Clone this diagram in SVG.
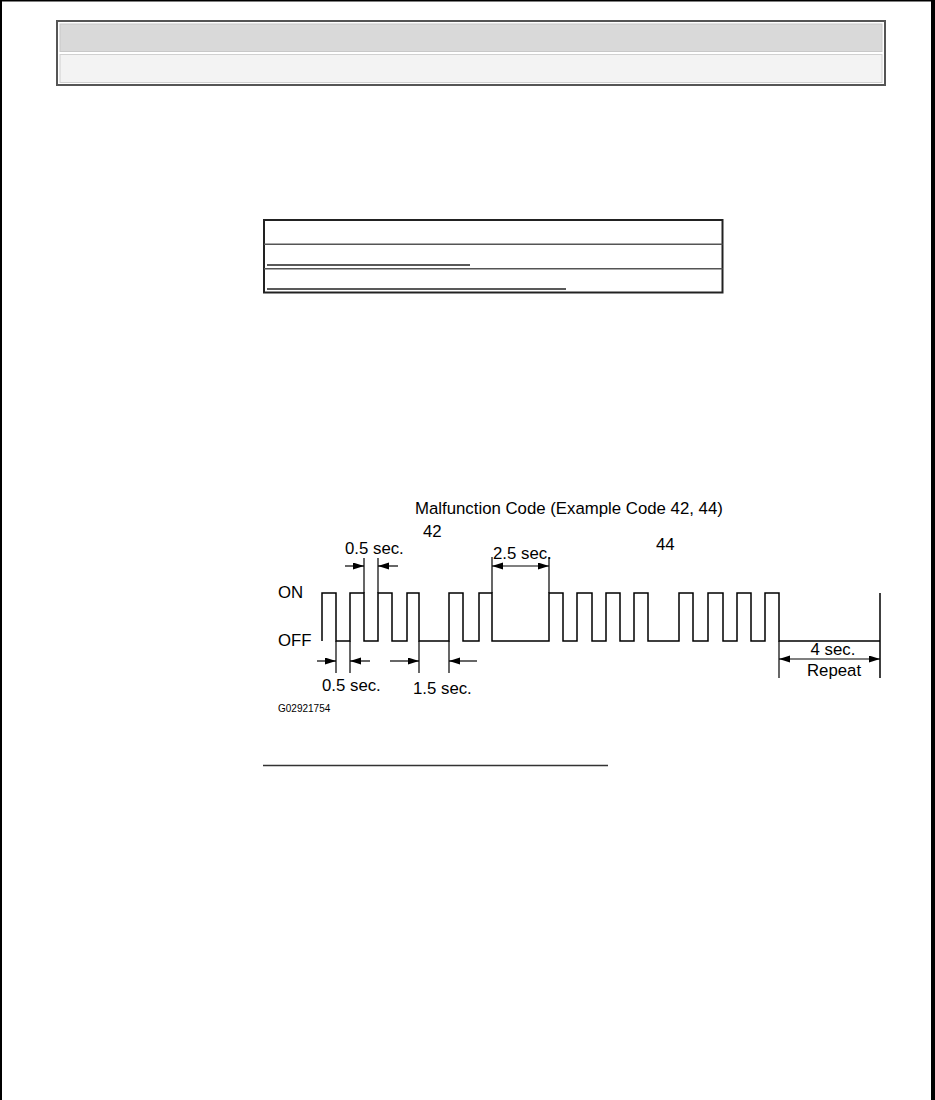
<svg xmlns="http://www.w3.org/2000/svg" width="935" height="1100" viewBox="0 0 935 1100">
<style>
  text { font-family: "Liberation Sans", Arial, sans-serif; fill: #000; }
  .t { font-size: 16.8px; }
  .small { font-size: 10px; }
  .wave { fill: none; stroke: #000; stroke-width: 1.5; }
  .ext { stroke: #000; stroke-width: 1.2; fill: none; }
  .dim { stroke: #000; stroke-width: 1.2; fill: none; marker-end: url(#ah); }
  .dim2 { stroke: #000; stroke-width: 1.2; fill: none; marker-end: url(#ah); marker-start: url(#ahs); }
</style>
<defs>
  <marker id="ah" markerUnits="userSpaceOnUse" markerWidth="12" markerHeight="8" refX="11" refY="3.5" orient="auto">
    <path d="M0,0 L11,3.5 L0,7 z" fill="#000"/>
  </marker>
  <marker id="ahs" markerUnits="userSpaceOnUse" markerWidth="12" markerHeight="8" refX="11" refY="3.5" orient="auto-start-reverse">
    <path d="M0,0 L11,3.5 L0,7 z" fill="#000"/>
  </marker>
</defs>
<rect x="0" y="0" width="935" height="1100" fill="#fff"/>
<g id="page-frame">
  <rect x="0" y="0" width="2" height="1100" fill="#000"/>
  <rect x="0" y="0" width="935" height="1.5" fill="#000"/>
  <rect x="931" y="0" width="4" height="1100" fill="#000"/>
</g>
<g id="header">
  <rect x="57" y="21" width="828" height="64" fill="#fff" stroke="#555" stroke-width="2"/>
  <rect x="60" y="24" width="822" height="27.5" fill="#d9d9d9" stroke="#c8c8c8" stroke-width="1"/>
  <rect x="60" y="54.5" width="822" height="28" fill="#f3f3f3" stroke="#d0d0d0" stroke-width="1"/>
</g>
<g id="table">
  <rect x="264" y="220" width="458.5" height="72.5" fill="#fff" stroke="#222" stroke-width="2"/>
  <line x1="264" y1="244.3" x2="722.5" y2="244.3" stroke="#555" stroke-width="1.5"/>
  <line x1="264" y1="268.7" x2="722.5" y2="268.7" stroke="#555" stroke-width="1.5"/>
  <line x1="267" y1="265" x2="470" y2="265" stroke="#222" stroke-width="1.5"/>
  <line x1="267" y1="289" x2="566" y2="289" stroke="#222" stroke-width="1.5"/>
</g>
<g id="waveform">
  <path class="wave" d="M322,641 V593 H336 V641 H350 V593 H364 V641 H378 V593 H392 V641 H407 V593 H419 V641 H449 V593 H463 V641 H479 V593 H492 V641 H549 V593 H563 V641 H577 V593 H592 V641 H606 V593 H620 V641 H634 V593 H648 V641 H679 V593 H693 V641 H708 V593 H723 V641 H737 V593 H751 V641 H765 V593 H779 V641 H880"/>
  <line class="wave" x1="880" y1="593" x2="880" y2="678"/>
</g>
<g id="connectors">
  <line class="ext" x1="336" y1="641" x2="336" y2="673"/>
  <line class="ext" x1="350" y1="641" x2="350" y2="673"/>
  <line class="ext" x1="364" y1="558" x2="364" y2="593"/>
  <line class="ext" x1="378" y1="558" x2="378" y2="593"/>
  <line class="ext" x1="419" y1="641" x2="419" y2="673"/>
  <line class="ext" x1="449" y1="641" x2="449" y2="673"/>
  <line class="ext" x1="492" y1="557" x2="492" y2="593"/>
  <line class="ext" x1="549" y1="557" x2="549" y2="593"/>
  <line class="ext" x1="779" y1="641" x2="779" y2="678"/>
  <line class="dim" x1="345" y1="566" x2="364" y2="566"/>
  <line class="dim" x1="398" y1="566" x2="378" y2="566"/>
  <line class="dim2" x1="492" y1="566" x2="549" y2="566"/>
  <line class="dim" x1="317" y1="661" x2="336" y2="661"/>
  <line class="dim" x1="370" y1="661" x2="350" y2="661"/>
  <line class="dim" x1="390" y1="661" x2="419" y2="661"/>
  <line class="dim" x1="477" y1="661" x2="449" y2="661"/>
  <line class="dim2" x1="779" y1="659" x2="880" y2="659"/>
</g>
<g id="labels">
  <text class="t" x="415" y="514">Malfunction Code (Example Code 42, 44)</text>
  <text class="t" x="423" y="537">42</text>
  <text class="t" x="656" y="550">44</text>
  <text class="t" x="345" y="554">0.5 sec.</text>
  <text class="t" x="493" y="559">2.5 sec.</text>
  <text class="t" x="278" y="598">ON</text>
  <text class="t" x="278" y="646">OFF</text>
  <text class="t" x="322" y="691">0.5 sec.</text>
  <text class="t" x="413" y="694">1.5 sec.</text>
  <text class="t" x="833" y="655" text-anchor="middle">4 sec.</text>
  <text class="t" x="834" y="676" text-anchor="middle">Repeat</text>
  <text class="small" x="278" y="712">G02921754</text>
</g>
<g id="footer-line">
  <line x1="263" y1="765.5" x2="608" y2="765.5" stroke="#333" stroke-width="1.5"/>
</g>
</svg>
